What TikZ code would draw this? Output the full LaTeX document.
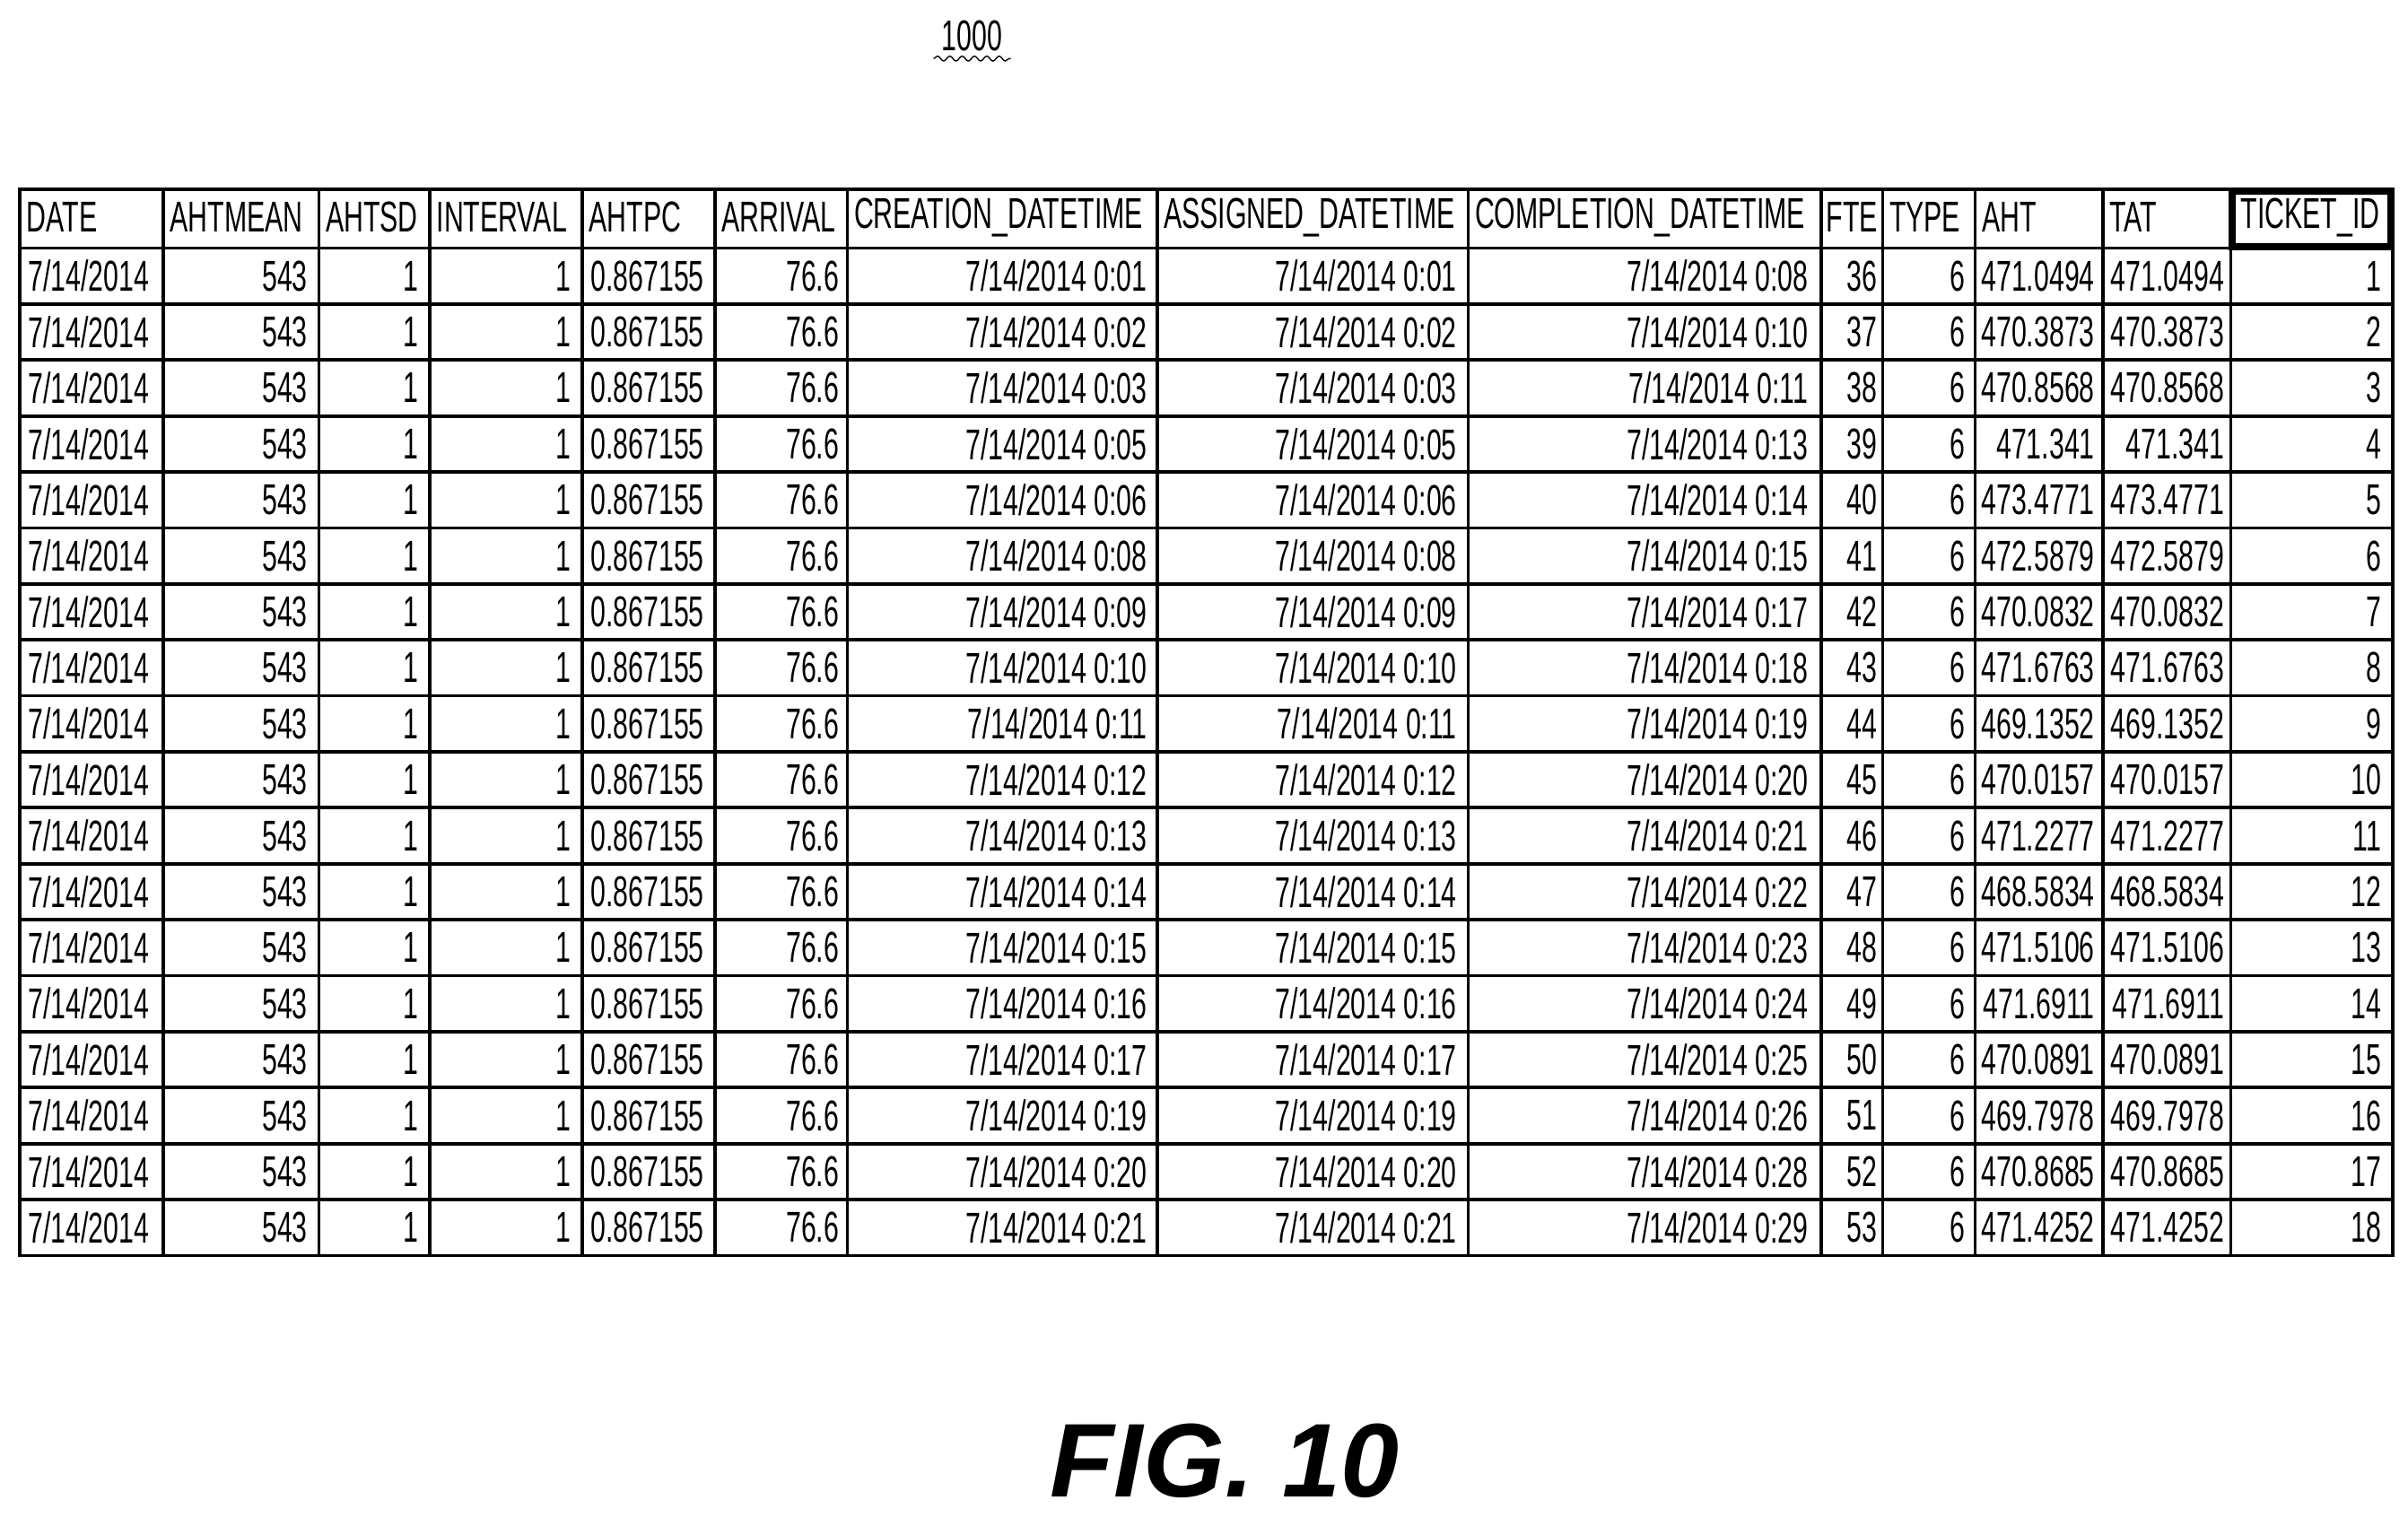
\documentclass[tikz,border=0pt]{standalone}
\usepackage{fontspec}
\setmainfont{Liberation Sans}
\newfontfamily\narrowf[FakeStretch=0.63]{Liberation Sans}
\usetikzlibrary{decorations.pathmorphing}
\begin{document}
\begin{tikzpicture}[x=0.5pt,y=-0.5pt,
  cell/.style={inner sep=0pt,font=\narrowf\fontsize{14}{16}\selectfont},
  grid/.style={line width=1.1pt}]
\useasboundingbox (0,0) rectangle (1563,985);
\def\rh{36.33}
% grid
\draw[grid] (13,123) rectangle (1553,815);
\foreach \x in {106,207,279,378,464,550,751,953,1182,1222,1282,1365,1448}
  \draw[grid] (\x,123) -- (\x,815);
\draw[grid] (13,161) -- (1553,161);
\foreach \i in {1,...,17} \draw[grid] (13,161+\i*\rh) -- (1553,161+\i*\rh);
\draw[line width=2.4pt] (1449,124) rectangle (1552,160);
% header
\foreach \x/\t in {17/DATE,110/AHTMEAN,211/AHTSD,283/INTERVAL,382/AHTPC,468/ARRIVAL,554/CREATION\_DATETIME,755/ASSIGNED\_DATETIME,957/COMPLETION\_DATETIME,1185/FTE,1226/TYPE,1286/AHT,1369/TAT,1454/TICKET\_ID}
  \node[cell,anchor=west] (h\x) at (\x,141) {\t};
% rows
\foreach \c/\m/\f/\a [count=\i] in {01/08/36/471.0494,02/10/37/470.3873,03/11/38/470.8568,05/13/39/471.341,06/14/40/473.4771,08/15/41/472.5879,09/17/42/470.0832,10/18/43/471.6763,11/19/44/469.1352,12/20/45/470.0157,13/21/46/471.2277,14/22/47/468.5834,15/23/48/471.5106,16/24/49/471.6911,17/25/50/470.0891,19/26/51/469.7978,20/28/52/470.8685,21/29/53/471.4252}{
  \pgfmathsetmacro\yy{161+(\i-0.5)*\rh}
  \node[cell,anchor=west] (d\i) at (18,\yy) {7/14/2014};
  \node[cell,anchor=east] (m\i) at (200,\yy) {543};
  \node[cell,anchor=east] (s\i) at (272,\yy) {1};
  \node[cell,anchor=east] (n\i) at (371,\yy) {1};
  \node[cell,anchor=west] (p\i) at (383,\yy) {0.867155};
  \node[cell,anchor=east] (r\i) at (545,\yy) {76.6};
  \node[cell,anchor=east] (c\i) at (745,\yy) {7/14/2014 0:\c};
  \node[cell,anchor=east] (g\i) at (946,\yy) {7/14/2014 0:\c};
  \node[cell,anchor=east] (o\i) at (1174,\yy) {7/14/2014 0:\m};
  \node[cell,anchor=east] (f\i) at (1219,\yy) {\f};
  \node[cell,anchor=east] (t\i) at (1276,\yy) {6};
  \node[cell,anchor=east] (a\i) at (1360,\yy) {\a};
  \node[cell,anchor=east] (b\i) at (1444,\yy) {\a};
  \node[cell,anchor=east] (k\i) at (1546,\yy) {\i};
}
\node[cell] (lbl) at (631,23) {1000};
\draw[decorate,decoration={snake,amplitude=0.8pt,segment length=4pt}] (606,38) -- (656,38);
\node[inner sep=0pt,font=\fontsize{34}{38}\selectfont\bfseries\itshape] (fig) at (795,948) {FIG. 10};
\end{tikzpicture}
\end{document}
